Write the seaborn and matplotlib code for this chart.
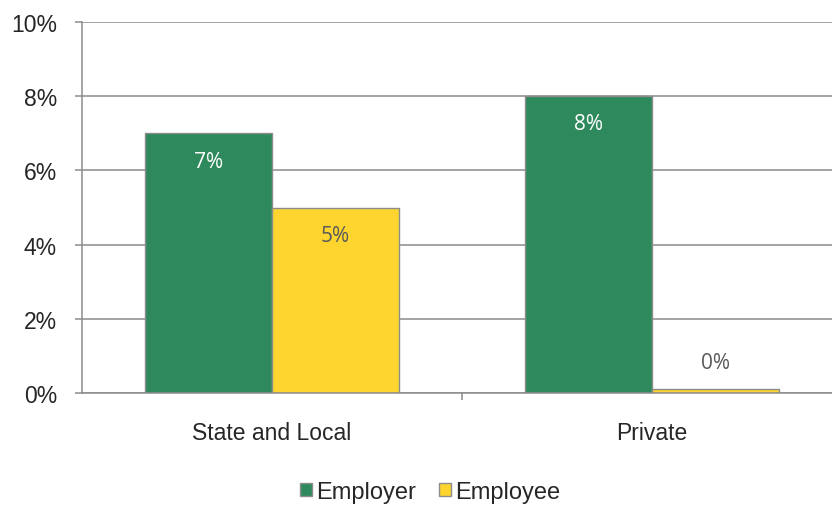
import pandas as pd
import seaborn as sns
import matplotlib.pyplot as plt
from matplotlib.patches import Patch
from matplotlib.ticker import FixedLocator

categories = ['State and Local', 'Private']
employer = [7.0, 8.0]
employee = [5.0, 0.1]
series = ['Employer', 'Employee']

df = pd.DataFrame({
    'sector': categories * 2,
    'type': [series[0]] * 2 + [series[1]] * 2,
    'value': employer + employee,
})

sns.set_style('white')
plt.rcParams['font.family'] = ['Liberation Sans', 'DejaVu Sans']

colors = {'Employer': '#2e8a5c', 'Employee': '#fed52e'}
label_colors = {'Employer': 'white', 'Employee': '#595959'}
grey = '#8c8c8c'

fig = plt.figure(figsize=(8.32, 5.06), dpi=100)
ax = fig.add_axes([82 / 832, 1 - 394 / 506, 750 / 832, 371 / 506])

sns.barplot(data=df, x='sector', y='value', hue='type', hue_order=series,
            palette=colors, width=0.67, gap=0, edgecolor=grey, linewidth=1.0,
            saturation=1, legend=False, ax=ax)

ax.set_xlim(-0.5, 1.4737)
ax.set_ylim(0, 10)
ax.set_yticks(range(0, 11, 2))
ax.set_yticklabels([f'{v}%' for v in range(0, 11, 2)], fontsize=16.5)
ax.grid(axis='y', color=grey, linewidth=1.1)
ax.set_axisbelow(True)
ax.set_xlabel('')
ax.set_ylabel('')

for s in ['top', 'right']:
    ax.spines[s].set_visible(False)
for s in ['left', 'bottom']:
    ax.spines[s].set_color(grey)
    ax.spines[s].set_linewidth(1.1)

ax.tick_params(axis='y', left=True, length=5, width=1.1, color=grey, pad=13)
ax.tick_params(axis='x', which='major', length=0, pad=20, labelsize=16.5)
ax.xaxis.set_minor_locator(FixedLocator([0.5]))
ax.tick_params(axis='x', which='minor', bottom=True, length=5, width=1.1, color=grey)

for name, cont in zip(series, ax.containers):
    for bar in cont:
        h = bar.get_height()
        x = bar.get_x() + bar.get_width() / 2
        off = -20 if h > 1 else 19
        ax.annotate(f'{h:.0f}%', (x, h), xytext=(0, off), textcoords='offset points',
                    ha='center', va='center', fontsize=15, color=label_colors[name],
                    family=['Open Sans', 'DejaVu Sans'])

handles = [Patch(facecolor=colors[s], edgecolor=grey, linewidth=1.0) for s in series]
fig.legend(handles, series, loc='center', bbox_to_anchor=(0.517, 0.026), ncol=2,
           frameon=False, fontsize=17, handlelength=0.5, handleheight=0.5,
           handletextpad=0.15, columnspacing=1.0)

fig.savefig('out.png', dpi=100)
